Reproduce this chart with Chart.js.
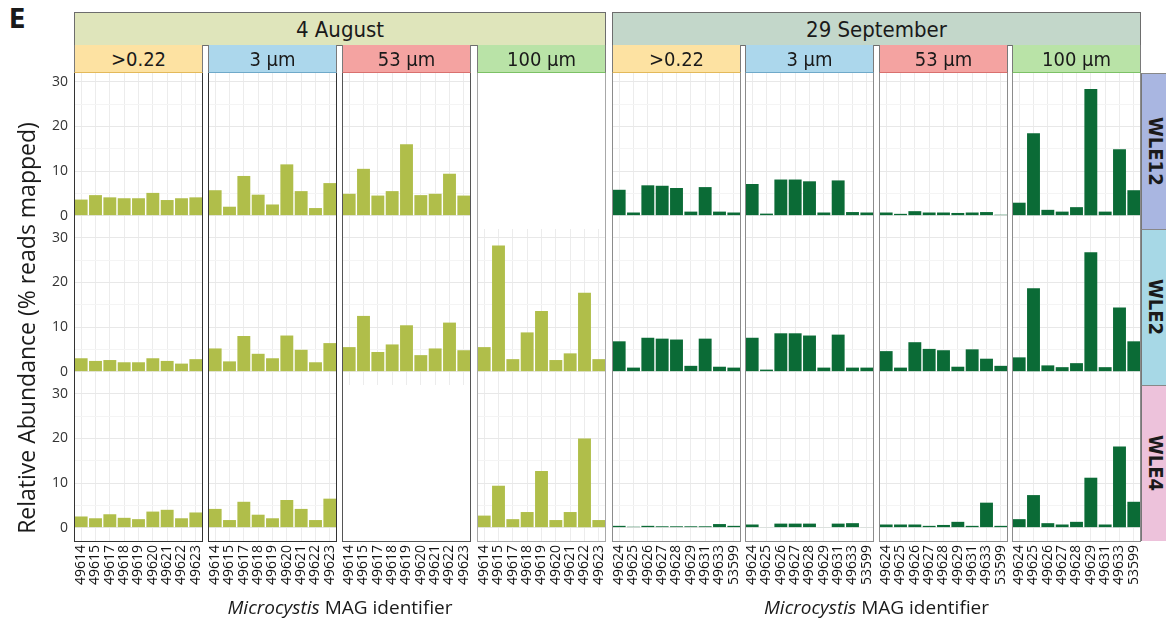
<!DOCTYPE html>
<html>
<head>
<meta charset="utf-8">
<script src="https://cdn.jsdelivr.net/npm/chart.js@4.4.1/dist/chart.umd.min.js"></script>
<style>
  html, body { margin: 0; padding: 0; background: #fff; }
  #fig { position: relative; width: 1166px; height: 624px; overflow: hidden; font-family: "Open Sans", "Noto Sans", sans-serif; color: #1a1a1a; }
  .abs { position: absolute; box-sizing: border-box; }
  .strip { display: flex; align-items: center; justify-content: center; font-family: "Liberation Sans Narrow", "DejaVu Sans Condensed", sans-serif; color: #1a1a1a; white-space: nowrap; }
  canvas { position: absolute; }
</style>
</head>
<body>
<div id="fig"></div>
<script>
// MAG identifiers on the x axis of each sampling date
const augustIds = ['49614', '49615', '49617', '49618', '49619', '49620', '49621', '49622', '49623'];
const septemberIds = ['49624', '49625', '49626', '49627', '49628', '49629', '49631', '49633', '53599'];
const dates = ['4 August', '29 September'];
const fractions = ['>0.22', '3 µm', '53 µm', '100 µm'];
const sites = ['WLE12', 'WLE2', 'WLE4'];
const yTicks = [0, 10, 20, 30];

// Relative abundance (% reads mapped); one list per size fraction, null = not sampled
const augWLE12 = [
  [3.6, 4.6, 4.1, 3.9, 3.9, 5.1, 3.5, 3.9, 4.1],
  [5.7, 2.0, 8.9, 4.7, 2.5, 11.5, 5.5, 1.7, 7.3],
  [4.9, 10.5, 4.5, 5.5, 16.0, 4.6, 4.9, 9.4, 4.5],
  null
];
const augWLE2 = [
  [3.0, 2.4, 2.6, 2.1, 2.1, 3.0, 2.4, 1.8, 2.8],
  [5.2, 2.3, 8.0, 4.0, 3.0, 8.1, 4.9, 2.1, 6.4],
  [5.5, 12.5, 4.4, 6.1, 10.4, 3.7, 5.2, 11.0, 4.8],
  [5.5, 28.3, 2.8, 8.8, 13.6, 2.6, 4.1, 17.7, 2.8]
];
const augWLE4 = [
  [2.5, 2.1, 3.0, 2.2, 1.9, 3.6, 4.0, 2.1, 3.4],
  [4.2, 1.7, 5.8, 2.9, 2.1, 6.2, 4.2, 1.7, 6.5],
  null,
  [2.7, 9.4, 1.9, 3.5, 12.7, 1.7, 3.5, 20.0, 1.7]
];
const sepWLE12 = [
  [5.8, 0.7, 6.8, 6.7, 6.2, 0.9, 6.4, 0.9, 0.7],
  [7.1, 0.45, 8.1, 8.1, 7.7, 0.7, 7.9, 0.8, 0.7],
  [0.7, 0.4, 1.0, 0.7, 0.7, 0.6, 0.7, 0.8, 0.2],
  [2.9, 18.5, 1.3, 0.9, 1.9, 28.4, 0.9, 14.9, 5.7]
];
const sepWLE2 = [
  [6.8, 0.9, 7.6, 7.4, 7.2, 1.3, 7.4, 1.1, 0.9],
  [7.6, 0.45, 8.6, 8.6, 8.1, 0.9, 8.3, 0.9, 0.9],
  [4.6, 0.9, 6.6, 5.1, 4.8, 1.1, 5.0, 2.9, 1.3],
  [3.2, 18.7, 1.4, 1.0, 1.9, 26.8, 1.0, 14.4, 6.8]
];
const sepWLE4 = [
  [0.4, 0.2, 0.4, 0.3, 0.3, 0.3, 0.3, 0.8, 0.4],
  [0.7, 0.1, 0.9, 0.9, 0.9, 0.1, 0.9, 1.0, 0.1],
  [0.7, 0.7, 0.7, 0.4, 0.6, 1.3, 0.4, 5.6, 0.4],
  [1.9, 7.3, 1.0, 0.7, 1.3, 11.2, 0.7, 18.2, 5.8]
];

// ---- styling and facet geometry ----
const dateRows = [[augWLE12, augWLE2, augWLE4], [sepWLE12, sepWLE2, sepWLE4]];
const dateIds = [augustIds, septemberIds];
const barColors = ['#b0be4a', '#0b6b36'];
const dateFill = ['#dfe5bb', '#c3d7ca'];
const fractionFill = ['#fde2a2', '#acd7ec', '#f4a3a1', '#b9e3a7'];
const fractionEdge = ['#e3b95a', '#6fa9c9', '#d9706e', '#7cc165'];
const siteFill = ['#a9b6e1', '#a7d8e6', '#edc2db'];
const colBorder = ['#333', '#333', '#555', '#a8a8a8', '#8c8c8c', '#8c8c8c', '#8c8c8c', '#8c8c8c'];

const colLeft = [74, 208, 342, 477, 612, 745, 879, 1012];
const colW = 129;
const rowTop = [73, 229, 385];
const rowH = 156;
const yPad = 46;   // room for y tick labels in the first column
const xPad = 58;   // room for rotated x tick labels in the bottom row

const fig = document.getElementById('fig');
function box(x, y, w, h, css, html) {
  const d = document.createElement('div');
  d.className = 'abs';
  Object.assign(d.style, { left: x + 'px', top: y + 'px', width: w + 'px', height: h + 'px' }, css || {});
  if (html !== undefined) d.innerHTML = html;
  fig.appendChild(d);
  return d;
}

Chart.defaults.font.family = '"Open Sans", "Noto Sans", sans-serif';
Chart.defaults.color = '#333';

// keep every plot area the same size regardless of tick-label overflow
function noOverflow(s) {
  s.paddingTop = 0; s.paddingBottom = 0; s.paddingLeft = 0; s.paddingRight = 0;
}

function panel(dateIdx, frac, siteIdx) {
  const col = dateIdx * 4 + frac;
  const values = dateRows[dateIdx][siteIdx][frac];
  const empty = values === null;
  const first = col === 0;
  const bottom = siteIdx === 2;
  const padL = first ? yPad : 0;
  const padB = bottom ? xPad : 0;

  const cv = document.createElement('canvas');
  const w = colW + padL, h = rowH + padB;
  cv.width = w; cv.height = h;
  cv.style.left = (colLeft[col] - padL) + 'px';
  cv.style.top = rowTop[siteIdx] + 'px';
  cv.style.width = w + 'px'; cv.style.height = h + 'px';
  fig.appendChild(cv);

  new Chart(cv, {
    type: 'bar',
    data: {
      labels: dateIds[dateIdx],
      datasets: [{
        data: empty ? [] : values,
        backgroundColor: barColors[dateIdx],
        borderWidth: 0,
        barPercentage: 0.9,
        categoryPercentage: 1.0
      }]
    },
    options: {
      responsive: false,
      animation: false,
      devicePixelRatio: 1,
      layout: { padding: 0 },
      plugins: { legend: { display: false }, tooltip: { enabled: false } },
      scales: {
        x: {
          type: 'category',
          offset: true,
          grid: { display: !empty, offset: false, color: '#ececec', lineWidth: 1, drawTicks: false },
          border: { display: false },
          ticks: {
            display: bottom,
            autoSkip: false,
            minRotation: 90,
            maxRotation: 90,
            padding: 4,
            color: '#111',
            font: { size: 14 }
          },
          afterFit: (s) => { s.height = padB; noOverflow(s); }
        },
        y: {
          min: -3,
          max: 32,
          grid: {
            display: !empty,
            drawTicks: false,
            color: (ctx) => (ctx.tick && ctx.tick.value % 10 === 0) ? '#e8e8e8' : '#f4f4f4',
            lineWidth: 1
          },
          border: { display: false },
          afterBuildTicks: (s) => {
            const t = [];
            yTicks.forEach((v, i) => {
              t.push({ value: v });
              if (i < yTicks.length - 1) t.push({ value: v + 5 });
            });
            s.ticks = t;
          },
          ticks: {
            display: first,
            padding: 6,
            color: '#333',
            font: { size: 14 },
            callback: (v) => (yTicks.includes(v) ? String(v) : '')
          },
          afterFit: (s) => { s.width = padL; noOverflow(s); }
        }
      }
    }
  });
}

// bar panels, three site rows by eight columns
for (let d = 0; d < 2; d++)
  for (let f = 0; f < 4; f++)
    for (let s = 0; s < 3; s++) panel(d, f, s);

// panel frames
for (let c = 0; c < 8; c++) {
  box(colLeft[c], 72, colW, 470, {
    borderLeft: '1px solid ' + colBorder[c],
    borderRight: '1px solid ' + colBorder[c],
    borderBottom: '1px solid ' + colBorder[c],
    pointerEvents: 'none'
  });
}

// date strips
for (let d = 0; d < 2; d++) {
  const x0 = colLeft[d * 4], x1 = colLeft[d * 4 + 3] + colW;
  const el = box(x0, 12, x1 - x0, 34, {
    background: dateFill[d], border: '1px solid #6d6d6d', fontSize: '22px'
  }, dates[d]);
  el.classList.add('strip');
}
// size-fraction strips
for (let c = 0; c < 8; c++) {
  const f = c % 4;
  const el = box(colLeft[c], 45, colW, 28, {
    background: fractionFill[f], borderLeft: '1px solid #7a7a7a', borderRight: '1px solid #7a7a7a',
    borderBottom: '1px solid ' + fractionEdge[f], fontSize: '20px'
  }, fractions[f]);
  el.classList.add('strip');
}
// site strips on the right
for (let s = 0; s < 3; s++) {
  const el = box(1141, rowTop[s], 28, rowH, {
    background: siteFill[s], borderLeft: '1px solid #777', borderTop: '1px solid #888',
    fontSize: '20px', fontWeight: 'bold'
  }, '<span style="writing-mode:vertical-rl;">' + sites[s] + '</span>');
  el.classList.add('strip');
}

// axis titles and panel letter
box(0, 4, 30, 30, { fontFamily: '"Liberation Sans Narrow","DejaVu Sans Condensed",sans-serif', fontWeight: 'bold', fontSize: '27px', lineHeight: '30px', paddingLeft: '9px' }, 'E');
box(26 - 260, 328 - 16, 520, 32, {
  transform: 'rotate(-90deg)', textAlign: 'center', fontSize: '23px', lineHeight: '32px', color: '#1a1a1a'
}, 'Relative Abundance (% reads mapped)');
[[74, 606], [612, 1141]].forEach(([a, b]) => {
  box(a, 593, b - a, 28, { textAlign: 'center', fontSize: '19px', lineHeight: '28px', color: '#1a1a1a' },
    '<i>Microcystis</i> MAG identifier');
});
</script>
</body>
</html>
